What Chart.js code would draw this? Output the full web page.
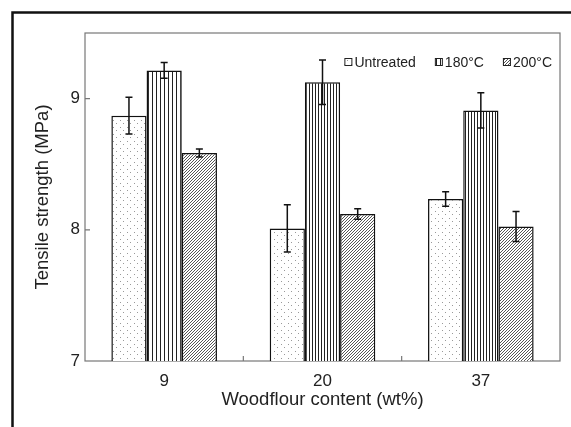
<!DOCTYPE html>
<html>
<head>
<meta charset="utf-8">
<script src="https://cdn.jsdelivr.net/npm/chart.js@4.4.0/dist/chart.umd.min.js"></script>
<style>
  body { margin: 0; background: #fff; }
  canvas { display: block; }
</style>
</head>
<body>
<canvas id="tensile" width="571" height="427"></canvas>
<script>
"use strict";

// data
const contents = ["9", "20", "37"];
const seriesNames = ["Untreated", "180°C", "200°C"];
const untreated = [8.87, 8.01, 8.235];
const treated180 = [9.215, 9.125, 8.91];
const treated200 = [8.585, 8.12, 8.025];
const errUntreated = [0.14, 0.18, 0.055];
const err180 = [0.06, 0.17, 0.135];
const err200 = [0.03, 0.04, 0.115];
const yTicks = [7, 8, 9];

const FONT = "'Liberation Sans', Arial, sans-serif";

const makePattern = (size, draw) => {
    const c = document.createElement("canvas");
    c.width = size;
    c.height = size;
    const g = c.getContext("2d");
    g.fillStyle = "#fff";
    g.fillRect(0, 0, size, size);
    draw(g, size);
    return document.getElementById("tensile").getContext("2d").createPattern(c, "repeat");
};

const dots = makePattern(7, (g) => {
    g.fillStyle = "#999";
    g.fillRect(1, 1, 1, 1);
    g.fillRect(4, 4, 1, 1);
});
const vlines = (step) => makePattern(step, (g, s) => {
    g.fillStyle = "#222";
    g.fillRect(0, 0, 1, s);
});
const hatch = makePattern(3, (g) => {
    g.fillStyle = "#555";
    g.fillRect(2, 0, 1, 1);
    g.fillRect(1, 1, 1, 1);
    g.fillRect(0, 2, 1, 1);
});

const errors = [errUntreated, err180, err200];

const framePlugin = {
    id: "frame",
    beforeDraw(chart) {
        const ctx = chart.ctx;
        ctx.save();
        ctx.fillStyle = "#fff";
        ctx.fillRect(0, 0, chart.width, chart.height);
        ctx.strokeStyle = "#111";
        ctx.lineWidth = 2.5;
        ctx.strokeRect(12.5, 12.5, 700, 600);
        ctx.restore();
    },
    beforeDatasetsDraw(chart) {
        const {ctx, chartArea: a, scales} = chart;
        ctx.save();
        ctx.strokeStyle = "#777";
        ctx.lineWidth = 1.2;
        ctx.strokeRect(a.left, a.top, a.right - a.left, a.bottom - a.top);
        // inward tick marks
        ctx.beginPath();
        yTicks.forEach((v) => {
            if (v === scales.y.min) return;
            const y = scales.y.getPixelForValue(v);
            ctx.moveTo(a.left, y);
            ctx.lineTo(a.left + 5, y);
        });
        for (let i = 1; i < contents.length; i++) {
            const x = (scales.x.getPixelForValue(i - 1) + scales.x.getPixelForValue(i)) / 2;
            ctx.moveTo(x, a.bottom);
            ctx.lineTo(x, a.bottom - 5);
        }
        ctx.stroke();
        ctx.restore();
    },
    afterDatasetsDraw(chart) {
        const {ctx, scales} = chart;
        ctx.save();
        ctx.strokeStyle = "#111";
        ctx.lineWidth = 1.5;
        chart.data.datasets.forEach((ds, di) => {
            const meta = chart.getDatasetMeta(di);
            meta.data.forEach((bar, i) => {
                const v = ds.data[i];
                const e = errors[di][i];
                const y1 = scales.y.getPixelForValue(v + e);
                const y2 = scales.y.getPixelForValue(v - e);
                ctx.beginPath();
                ctx.moveTo(bar.x, y1);
                ctx.lineTo(bar.x, y2);
                ctx.moveTo(bar.x - 3.5, y1);
                ctx.lineTo(bar.x + 3.5, y1);
                ctx.moveTo(bar.x - 3.5, y2);
                ctx.lineTo(bar.x + 3.5, y2);
                ctx.stroke();
            });
        });

        // legend inside the plot, top right
        const a = chart.chartArea;
        ctx.font = "14px " + FONT;
        ctx.textBaseline = "middle";
        const yMid = 62;
        let x = a.right - 8;
        for (let di = chart.data.datasets.length - 1; di >= 0; di--) {
            const ds = chart.data.datasets[di];
            const w = ctx.measureText(ds.label).width;
            x -= w;
            ctx.fillStyle = "#222";
            ctx.fillText(ds.label, x, yMid + 1);
            x -= 10;
            ctx.fillStyle = Array.isArray(ds.backgroundColor) ? ds.backgroundColor[0] : ds.backgroundColor;
            ctx.fillRect(x, yMid - 4, 8, 8);
            ctx.lineWidth = 1;
            ctx.strokeStyle = "#222";
            ctx.strokeRect(x + 0.5, yMid - 3.5, 7, 7);
            x -= 19;
        }
        ctx.restore();
    }
};

new Chart(document.getElementById("tensile"), {
    type: "bar",
    data: {
        labels: contents,
        datasets: [
            {label: seriesNames[0], data: untreated, backgroundColor: dots},
            {label: seriesNames[1], data: treated180, backgroundColor: [vlines(4), vlines(3), vlines(3)]},
            {label: seriesNames[2], data: treated200, backgroundColor: hatch}
        ]
    },
    options: {
        responsive: false,
        animation: false,
        layout: {padding: {left: 0, top: 33, right: 11, bottom: 0}},
        datasets: {
            bar: {
                borderColor: "#111",
                borderWidth: 1.5,
                barPercentage: 1,
                categoryPercentage: 0.667
            }
        },
        plugins: {
            legend: {display: false},
            tooltip: {enabled: false}
        },
        scales: {
            x: {
                grid: {display: false, drawTicks: false},
                border: {display: false},
                ticks: {
                    color: "#222",
                    padding: 10,
                    font: {family: FONT, size: 17}
                },
                title: {
                    display: true,
                    text: "Woodflour content (wt%)",
                    color: "#222",
                    padding: {top: 0, bottom: 16},
                    font: {family: FONT, size: 18.5}
                },
                afterFit(scale) { scale.height = 66; }
            },
            y: {
                min: 7,
                max: 9.5,
                grid: {display: false, drawTicks: false},
                border: {display: false},
                ticks: {
                    stepSize: 1,
                    includeBounds: false,
                    color: "#222",
                    padding: 5,
                    font: {family: FONT, size: 17}
                },
                title: {
                    display: true,
                    text: "Tensile strength (MPa)",
                    color: "#222",
                    padding: {top: 32, bottom: 0},
                    font: {family: FONT, size: 18.5}
                },
                afterFit(scale) { scale.width = 85; }
            }
        }
    },
    plugins: [framePlugin]
});
</script>
</body>
</html>
